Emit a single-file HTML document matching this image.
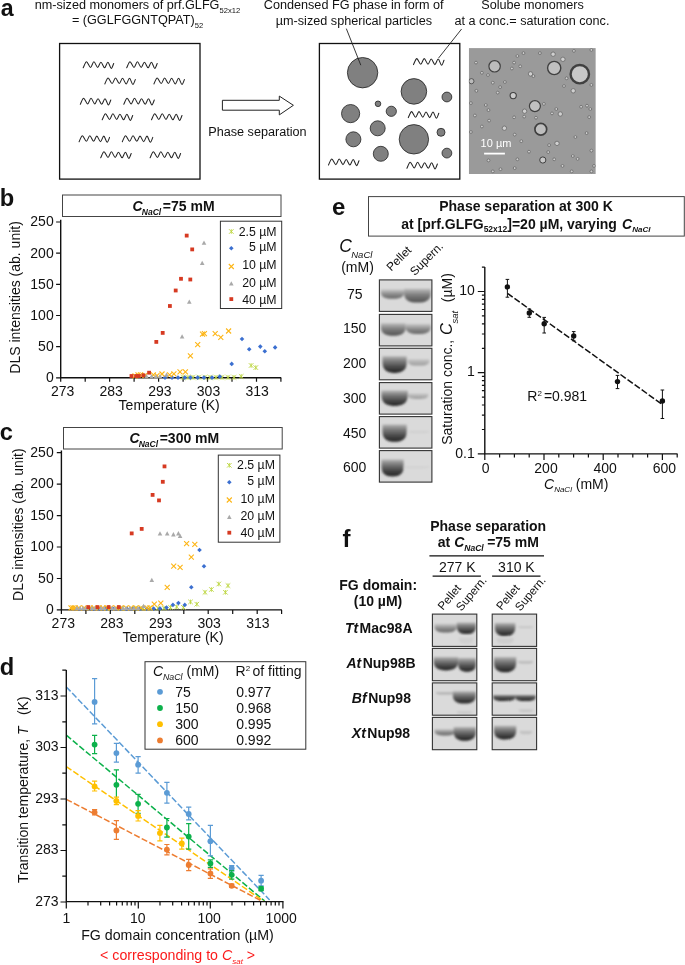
<!DOCTYPE html>
<html><head><meta charset="utf-8"><title>Figure</title>
<style>html,body{margin:0;padding:0;background:#fff}svg{display:block}text{font-family:"Liberation Sans",sans-serif}</style>
</head><body>
<svg width="685" height="965" viewBox="0 0 685 965">
<rect width="685" height="965" fill="#fff"/>
<g id="panel-a">
<text x="0.8" y="15.7" font-size="23.2" font-weight="bold" fill="#111">a</text>
<text x="34.7" y="9.2" font-size="12.65" fill="#111">nm-sized monomers of prf.GLFG<tspan font-size="7.6" dy="3.6">52x12</tspan></text>
<text x="71.9" y="24.3" font-size="12.65" fill="#111">= (GGLFGGNTQPAT)<tspan font-size="7.6" dy="3.6">52</tspan></text>
<text x="353.7" y="9.4" font-size="12.65" text-anchor="middle" fill="#111">Condensed FG phase in form of</text>
<text x="353.9" y="24.6" font-size="12.65" text-anchor="middle" fill="#111">µm-sized spherical particles</text>
<text x="532.5" y="9.4" font-size="12.65" text-anchor="middle" fill="#111">Solube monomers</text>
<text x="532" y="24.6" font-size="12.65" text-anchor="middle" fill="#111">at a conc.= saturation conc.</text>
<text x="257.4" y="135.9" font-size="12.65" text-anchor="middle" fill="#111">Phase separation</text>
<rect x="59.6" y="43.5" width="140.4" height="135.6" fill="#fff" stroke="#111" stroke-width="1.3"/>
<rect x="319.4" y="43.5" width="140.4" height="135.6" fill="#fff" stroke="#111" stroke-width="1.3"/>
<path d="M83.2 67.8 m0 0 c1-2 2.2-6 3.3-6 c1.2 0 2.8 5.6 4 5.6 c1.2 0 2.3-5.6 3.4-5.6 c1.2 0 2.6 5.6 3.8 5.6 c1.1 0 2.1-5.2 3.2-5.2 c1.2 0 2.5 5.6 3.7 5.6 c1.1 0 2.2-5.6 3.3-5.6 c1.1 0 2.3 6.2 3.4 6.2 c0.9 0 1.8-3.6 2.4-4.9" fill="none" stroke="#222" stroke-width="1.05" stroke-linecap="round" stroke-linejoin="round"/>
<path d="M126.7 67.8 m0 0 c1-2 2.2-6 3.3-6 c1.2 0 2.8 5.6 4 5.6 c1.2 0 2.3-5.6 3.4-5.6 c1.2 0 2.6 5.6 3.8 5.6 c1.1 0 2.1-5.2 3.2-5.2 c1.2 0 2.5 5.6 3.7 5.6 c1.1 0 2.2-5.6 3.3-5.6 c1.1 0 2.3 6.2 3.4 6.2 c0.9 0 1.8-3.6 2.4-4.9" fill="none" stroke="#222" stroke-width="1.05" stroke-linecap="round" stroke-linejoin="round"/>
<path d="M104.8 83.9 m0 0 c1-2 2.2-6 3.3-6 c1.2 0 2.8 5.6 4 5.6 c1.2 0 2.3-5.6 3.4-5.6 c1.2 0 2.6 5.6 3.8 5.6 c1.1 0 2.1-5.2 3.2-5.2 c1.2 0 2.5 5.6 3.7 5.6 c1.1 0 2.2-5.6 3.3-5.6 c1.1 0 2.3 6.2 3.4 6.2 c0.9 0 1.8-3.6 2.4-4.9" fill="none" stroke="#222" stroke-width="1.05" stroke-linecap="round" stroke-linejoin="round"/>
<path d="M153.9 83.9 m0 0 c1-2 2.2-6 3.3-6 c1.2 0 2.8 5.6 4 5.6 c1.2 0 2.3-5.6 3.4-5.6 c1.2 0 2.6 5.6 3.8 5.6 c1.1 0 2.1-5.2 3.2-5.2 c1.2 0 2.5 5.6 3.7 5.6 c1.1 0 2.2-5.6 3.3-5.6 c1.1 0 2.3 6.2 3.4 6.2 c0.9 0 1.8-3.6 2.4-4.9" fill="none" stroke="#222" stroke-width="1.05" stroke-linecap="round" stroke-linejoin="round"/>
<path d="M80.3 104.3 m0 0 c1-2 2.2-6 3.3-6 c1.2 0 2.8 5.6 4 5.6 c1.2 0 2.3-5.6 3.4-5.6 c1.2 0 2.6 5.6 3.8 5.6 c1.1 0 2.1-5.2 3.2-5.2 c1.2 0 2.5 5.6 3.7 5.6 c1.1 0 2.2-5.6 3.3-5.6 c1.1 0 2.3 6.2 3.4 6.2 c0.9 0 1.8-3.6 2.4-4.9" fill="none" stroke="#222" stroke-width="1.05" stroke-linecap="round" stroke-linejoin="round"/>
<path d="M123.8 104.3 m0 0 c1-2 2.2-6 3.3-6 c1.2 0 2.8 5.6 4 5.6 c1.2 0 2.3-5.6 3.4-5.6 c1.2 0 2.6 5.6 3.8 5.6 c1.1 0 2.1-5.2 3.2-5.2 c1.2 0 2.5 5.6 3.7 5.6 c1.1 0 2.2-5.6 3.3-5.6 c1.1 0 2.3 6.2 3.4 6.2 c0.9 0 1.8-3.6 2.4-4.9" fill="none" stroke="#222" stroke-width="1.05" stroke-linecap="round" stroke-linejoin="round"/>
<path d="M102.2 119.8 m0 0 c1-2 2.2-6 3.3-6 c1.2 0 2.8 5.6 4 5.6 c1.2 0 2.3-5.6 3.4-5.6 c1.2 0 2.6 5.6 3.8 5.6 c1.1 0 2.1-5.2 3.2-5.2 c1.2 0 2.5 5.6 3.7 5.6 c1.1 0 2.2-5.6 3.3-5.6 c1.1 0 2.3 6.2 3.4 6.2 c0.9 0 1.8-3.6 2.4-4.9" fill="none" stroke="#222" stroke-width="1.05" stroke-linecap="round" stroke-linejoin="round"/>
<path d="M151.5 119.8 m0 0 c1-2 2.2-6 3.3-6 c1.2 0 2.8 5.6 4 5.6 c1.2 0 2.3-5.6 3.4-5.6 c1.2 0 2.6 5.6 3.8 5.6 c1.1 0 2.1-5.2 3.2-5.2 c1.2 0 2.5 5.6 3.7 5.6 c1.1 0 2.2-5.6 3.3-5.6 c1.1 0 2.3 6.2 3.4 6.2 c0.9 0 1.8-3.6 2.4-4.9" fill="none" stroke="#222" stroke-width="1.05" stroke-linecap="round" stroke-linejoin="round"/>
<path d="M79.1 141.7 m0 0 c1-2 2.2-6 3.3-6 c1.2 0 2.8 5.6 4 5.6 c1.2 0 2.3-5.6 3.4-5.6 c1.2 0 2.6 5.6 3.8 5.6 c1.1 0 2.1-5.2 3.2-5.2 c1.2 0 2.5 5.6 3.7 5.6 c1.1 0 2.2-5.6 3.3-5.6 c1.1 0 2.3 6.2 3.4 6.2 c0.9 0 1.8-3.6 2.4-4.9" fill="none" stroke="#222" stroke-width="1.05" stroke-linecap="round" stroke-linejoin="round"/>
<path d="M122.3 141.7 m0 0 c1-2 2.2-6 3.3-6 c1.2 0 2.8 5.6 4 5.6 c1.2 0 2.3-5.6 3.4-5.6 c1.2 0 2.6 5.6 3.8 5.6 c1.1 0 2.1-5.2 3.2-5.2 c1.2 0 2.5 5.6 3.7 5.6 c1.1 0 2.2-5.6 3.3-5.6 c1.1 0 2.3 6.2 3.4 6.2 c0.9 0 1.8-3.6 2.4-4.9" fill="none" stroke="#222" stroke-width="1.05" stroke-linecap="round" stroke-linejoin="round"/>
<path d="M100.7 157.8 m0 0 c1-2 2.2-6 3.3-6 c1.2 0 2.8 5.6 4 5.6 c1.2 0 2.3-5.6 3.4-5.6 c1.2 0 2.6 5.6 3.8 5.6 c1.1 0 2.1-5.2 3.2-5.2 c1.2 0 2.5 5.6 3.7 5.6 c1.1 0 2.2-5.6 3.3-5.6 c1.1 0 2.3 6.2 3.4 6.2 c0.9 0 1.8-3.6 2.4-4.9" fill="none" stroke="#222" stroke-width="1.05" stroke-linecap="round" stroke-linejoin="round"/>
<path d="M150.1 157.8 m0 0 c1-2 2.2-6 3.3-6 c1.2 0 2.8 5.6 4 5.6 c1.2 0 2.3-5.6 3.4-5.6 c1.2 0 2.6 5.6 3.8 5.6 c1.1 0 2.1-5.2 3.2-5.2 c1.2 0 2.5 5.6 3.7 5.6 c1.1 0 2.2-5.6 3.3-5.6 c1.1 0 2.3 6.2 3.4 6.2 c0.9 0 1.8-3.6 2.4-4.9" fill="none" stroke="#222" stroke-width="1.05" stroke-linecap="round" stroke-linejoin="round"/>
<path d="M222.4 100.3 H279.3 V96.1 L293.4 105.3 L279.3 114.9 V110.2 H222.4 Z" fill="#fff" stroke="#222" stroke-width="1"/>
<circle cx="362.6" cy="72.7" r="15.2" fill="#808080" stroke="#222" stroke-width="0.8"/>
<circle cx="413.9" cy="91.4" r="12.8" fill="#808080" stroke="#222" stroke-width="0.8"/>
<circle cx="446.9" cy="97.0" r="4.9" fill="#808080" stroke="#222" stroke-width="0.8"/>
<circle cx="378.0" cy="103.8" r="2.8" fill="#808080" stroke="#222" stroke-width="0.8"/>
<circle cx="391.3" cy="111.3" r="5.1" fill="#808080" stroke="#222" stroke-width="0.8"/>
<circle cx="350.6" cy="113.6" r="9.1" fill="#808080" stroke="#222" stroke-width="0.8"/>
<circle cx="377.7" cy="128.3" r="7.5" fill="#808080" stroke="#222" stroke-width="0.8"/>
<circle cx="413.9" cy="139.3" r="14.7" fill="#808080" stroke="#222" stroke-width="0.8"/>
<circle cx="441.0" cy="132.3" r="4.0" fill="#808080" stroke="#222" stroke-width="0.8"/>
<circle cx="353.4" cy="139.3" r="7.5" fill="#808080" stroke="#222" stroke-width="0.8"/>
<circle cx="380.8" cy="153.8" r="7.5" fill="#808080" stroke="#222" stroke-width="0.8"/>
<circle cx="446.9" cy="153.1" r="4.9" fill="#808080" stroke="#222" stroke-width="0.8"/>
<path d="M413.5 64.6 m0 0 c1-2 2.2-6 3.3-6 c1.2 0 2.8 5.6 4 5.6 c1.2 0 2.3-5.6 3.4-5.6 c1.2 0 2.6 5.6 3.8 5.6 c1.1 0 2.1-5.2 3.2-5.2 c1.2 0 2.5 5.6 3.7 5.6 c1.1 0 2.2-5.6 3.3-5.6 c1.1 0 2.3 6.2 3.4 6.2 c0.9 0 1.8-3.6 2.4-4.9" fill="none" stroke="#222" stroke-width="1.05" stroke-linecap="round" stroke-linejoin="round"/>
<path d="M408.3 117.6 m0 0 c1-2 2.2-6 3.3-6 c1.2 0 2.8 5.6 4 5.6 c1.2 0 2.3-5.6 3.4-5.6 c1.2 0 2.6 5.6 3.8 5.6 c1.1 0 2.1-5.2 3.2-5.2 c1.2 0 2.5 5.6 3.7 5.6 c1.1 0 2.2-5.6 3.3-5.6 c1.1 0 2.3 6.2 3.4 6.2 c0.9 0 1.8-3.6 2.4-4.9" fill="none" stroke="#222" stroke-width="1.05" stroke-linecap="round" stroke-linejoin="round"/>
<path d="M328.5 165.0 m0 0 c1-2 2.2-6 3.3-6 c1.2 0 2.8 5.6 4 5.6 c1.2 0 2.3-5.6 3.4-5.6 c1.2 0 2.6 5.6 3.8 5.6 c1.1 0 2.1-5.2 3.2-5.2 c1.2 0 2.5 5.6 3.7 5.6 c1.1 0 2.2-5.6 3.3-5.6 c1.1 0 2.3 6.2 3.4 6.2 c0.9 0 1.8-3.6 2.4-4.9" fill="none" stroke="#222" stroke-width="1.05" stroke-linecap="round" stroke-linejoin="round"/>
<path d="M406.9 168.3 m0 0 c1-2 2.2-6 3.3-6 c1.2 0 2.8 5.6 4 5.6 c1.2 0 2.3-5.6 3.4-5.6 c1.2 0 2.6 5.6 3.8 5.6 c1.1 0 2.1-5.2 3.2-5.2 c1.2 0 2.5 5.6 3.7 5.6 c1.1 0 2.2-5.6 3.3-5.6 c1.1 0 2.3 6.2 3.4 6.2 c0.9 0 1.8-3.6 2.4-4.9" fill="none" stroke="#222" stroke-width="1.05" stroke-linecap="round" stroke-linejoin="round"/>
<path d="M346.3 28.6 L360.8 65.2 M461.6 29 L438.6 58" stroke="#222" stroke-width="0.9" fill="none"/>
<defs><clipPath id="mc"><rect x="468.8" y="48.1" width="127" height="125.9"/></clipPath><filter id="b1" x="-20%" y="-20%" width="140%" height="140%"><feGaussianBlur stdDeviation="0.5"/></filter></defs>
<g clip-path="url(#mc)"><rect x="468.8" y="48.1" width="127" height="125.9" fill="#9a9a9a"/>
<g filter="url(#b1)">
<circle cx="494.6" cy="66.3" r="5.7" fill="#bcbcbc" stroke="#404040" stroke-width="1.2"/>
<circle cx="554.2" cy="68.0" r="6.6" fill="#c0c0c0" stroke="#404040" stroke-width="1.4"/>
<circle cx="579.8" cy="74.2" r="9.2" fill="#c8c8c8" stroke="#404040" stroke-width="2.4"/>
<circle cx="534.9" cy="106.1" r="5.5" fill="#c0c0c0" stroke="#404040" stroke-width="1.2"/>
<circle cx="540.8" cy="129.3" r="5.9" fill="#bebebe" stroke="#404040" stroke-width="1.7"/>
<circle cx="513.2" cy="95.6" r="3.1" fill="#cccccc" stroke="#404040" stroke-width="1.1"/>
<circle cx="542.8" cy="160.0" r="3.1" fill="#c8c8c8" stroke="#404040" stroke-width="1.0"/>
<circle cx="471.4" cy="81.2" r="2.6" fill="#bbbbbb" stroke="#404040" stroke-width="0.8"/>
<circle cx="476.0" cy="62.6" r="1.4" fill="#d0d0d0" stroke="#5e5e5e" stroke-width="0.7"/>
<circle cx="481.9" cy="72.8" r="1.4" fill="#d0d0d0" stroke="#5e5e5e" stroke-width="0.7"/>
<circle cx="488.0" cy="75.0" r="1.4" fill="#d0d0d0" stroke="#5e5e5e" stroke-width="0.7"/>
<circle cx="514.1" cy="62.6" r="1.4" fill="#d0d0d0" stroke="#5e5e5e" stroke-width="0.7"/>
<circle cx="517.4" cy="56.0" r="1.4" fill="#d0d0d0" stroke="#5e5e5e" stroke-width="0.7"/>
<circle cx="523.5" cy="53.1" r="1.4" fill="#d0d0d0" stroke="#5e5e5e" stroke-width="0.7"/>
<circle cx="520.2" cy="66.3" r="1.4" fill="#d0d0d0" stroke="#5e5e5e" stroke-width="0.7"/>
<circle cx="511.9" cy="68.5" r="1.4" fill="#d0d0d0" stroke="#5e5e5e" stroke-width="0.7"/>
<circle cx="492.8" cy="82.7" r="1.4" fill="#d0d0d0" stroke="#5e5e5e" stroke-width="0.7"/>
<circle cx="504.9" cy="82.0" r="1.4" fill="#d0d0d0" stroke="#5e5e5e" stroke-width="0.7"/>
<circle cx="500.1" cy="87.1" r="1.4" fill="#d0d0d0" stroke="#5e5e5e" stroke-width="0.7"/>
<circle cx="497.7" cy="92.6" r="1.4" fill="#d0d0d0" stroke="#5e5e5e" stroke-width="0.7"/>
<circle cx="476.4" cy="90.8" r="1.4" fill="#d0d0d0" stroke="#5e5e5e" stroke-width="0.7"/>
<circle cx="470.9" cy="103.1" r="1.4" fill="#d0d0d0" stroke="#5e5e5e" stroke-width="0.7"/>
<circle cx="485.8" cy="105.0" r="1.4" fill="#d0d0d0" stroke="#5e5e5e" stroke-width="0.7"/>
<circle cx="488.5" cy="110.1" r="1.4" fill="#d0d0d0" stroke="#5e5e5e" stroke-width="0.7"/>
<circle cx="474.9" cy="115.5" r="1.4" fill="#d0d0d0" stroke="#5e5e5e" stroke-width="0.7"/>
<circle cx="489.1" cy="120.6" r="1.4" fill="#d0d0d0" stroke="#5e5e5e" stroke-width="0.7"/>
<circle cx="504.4" cy="128.2" r="2.2" fill="#d0d0d0" stroke="#5e5e5e" stroke-width="0.7"/>
<circle cx="481.9" cy="126.5" r="1.4" fill="#d0d0d0" stroke="#5e5e5e" stroke-width="0.7"/>
<circle cx="470.9" cy="132.0" r="1.4" fill="#d0d0d0" stroke="#5e5e5e" stroke-width="0.7"/>
<circle cx="514.1" cy="117.3" r="1.4" fill="#d0d0d0" stroke="#5e5e5e" stroke-width="0.7"/>
<circle cx="524.6" cy="111.2" r="2.2" fill="#d0d0d0" stroke="#5e5e5e" stroke-width="0.7"/>
<circle cx="524.2" cy="116.6" r="1.4" fill="#d0d0d0" stroke="#5e5e5e" stroke-width="0.7"/>
<circle cx="536.0" cy="117.7" r="1.4" fill="#d0d0d0" stroke="#5e5e5e" stroke-width="0.7"/>
<circle cx="543.9" cy="103.9" r="1.4" fill="#d0d0d0" stroke="#5e5e5e" stroke-width="0.7"/>
<circle cx="530.5" cy="73.9" r="2.2" fill="#d0d0d0" stroke="#5e5e5e" stroke-width="0.7"/>
<circle cx="533.4" cy="76.1" r="1.4" fill="#d0d0d0" stroke="#5e5e5e" stroke-width="0.7"/>
<circle cx="539.9" cy="53.1" r="1.4" fill="#d0d0d0" stroke="#5e5e5e" stroke-width="0.7"/>
<circle cx="553.1" cy="54.2" r="2.2" fill="#d0d0d0" stroke="#5e5e5e" stroke-width="0.7"/>
<circle cx="562.9" cy="59.3" r="2.2" fill="#d0d0d0" stroke="#5e5e5e" stroke-width="0.7"/>
<circle cx="573.9" cy="50.9" r="1.4" fill="#d0d0d0" stroke="#5e5e5e" stroke-width="0.7"/>
<circle cx="591.4" cy="49.9" r="1.4" fill="#d0d0d0" stroke="#5e5e5e" stroke-width="0.7"/>
<circle cx="566.6" cy="78.3" r="1.4" fill="#d0d0d0" stroke="#5e5e5e" stroke-width="0.7"/>
<circle cx="564.0" cy="86.0" r="1.4" fill="#d0d0d0" stroke="#5e5e5e" stroke-width="0.7"/>
<circle cx="573.2" cy="90.8" r="2.2" fill="#d0d0d0" stroke="#5e5e5e" stroke-width="0.7"/>
<circle cx="591.4" cy="84.9" r="1.4" fill="#d0d0d0" stroke="#5e5e5e" stroke-width="0.7"/>
<circle cx="581.1" cy="106.8" r="1.4" fill="#d0d0d0" stroke="#5e5e5e" stroke-width="0.7"/>
<circle cx="587.0" cy="105.7" r="1.4" fill="#d0d0d0" stroke="#5e5e5e" stroke-width="0.7"/>
<circle cx="590.3" cy="109.0" r="1.4" fill="#d0d0d0" stroke="#5e5e5e" stroke-width="0.7"/>
<circle cx="589.2" cy="117.1" r="1.4" fill="#d0d0d0" stroke="#5e5e5e" stroke-width="0.7"/>
<circle cx="556.3" cy="109.0" r="1.4" fill="#d0d0d0" stroke="#5e5e5e" stroke-width="0.7"/>
<circle cx="552.0" cy="113.4" r="1.4" fill="#d0d0d0" stroke="#5e5e5e" stroke-width="0.7"/>
<circle cx="560.3" cy="114.0" r="2.2" fill="#d0d0d0" stroke="#5e5e5e" stroke-width="0.7"/>
<circle cx="575.4" cy="137.0" r="1.4" fill="#d0d0d0" stroke="#5e5e5e" stroke-width="0.7"/>
<circle cx="586.6" cy="133.1" r="1.4" fill="#d0d0d0" stroke="#5e5e5e" stroke-width="0.7"/>
<circle cx="557.0" cy="143.4" r="2.2" fill="#d0d0d0" stroke="#5e5e5e" stroke-width="0.7"/>
<circle cx="549.1" cy="145.1" r="1.4" fill="#d0d0d0" stroke="#5e5e5e" stroke-width="0.7"/>
<circle cx="548.2" cy="152.1" r="1.4" fill="#d0d0d0" stroke="#5e5e5e" stroke-width="0.7"/>
<circle cx="521.3" cy="141.2" r="1.4" fill="#d0d0d0" stroke="#5e5e5e" stroke-width="0.7"/>
<circle cx="514.7" cy="134.6" r="1.4" fill="#d0d0d0" stroke="#5e5e5e" stroke-width="0.7"/>
<circle cx="529.0" cy="151.7" r="1.4" fill="#d0d0d0" stroke="#5e5e5e" stroke-width="0.7"/>
<circle cx="517.4" cy="159.3" r="1.4" fill="#d0d0d0" stroke="#5e5e5e" stroke-width="0.7"/>
<circle cx="514.7" cy="168.1" r="1.4" fill="#d0d0d0" stroke="#5e5e5e" stroke-width="0.7"/>
<circle cx="500.5" cy="169.2" r="1.4" fill="#d0d0d0" stroke="#5e5e5e" stroke-width="0.7"/>
<circle cx="492.8" cy="171.4" r="1.4" fill="#d0d0d0" stroke="#5e5e5e" stroke-width="0.7"/>
<circle cx="488.5" cy="160.4" r="1.4" fill="#d0d0d0" stroke="#5e5e5e" stroke-width="0.7"/>
<circle cx="554.2" cy="159.3" r="1.4" fill="#d0d0d0" stroke="#5e5e5e" stroke-width="0.7"/>
<circle cx="562.5" cy="165.9" r="1.4" fill="#d0d0d0" stroke="#5e5e5e" stroke-width="0.7"/>
<circle cx="571.7" cy="171.4" r="1.4" fill="#d0d0d0" stroke="#5e5e5e" stroke-width="0.7"/>
<circle cx="572.8" cy="156.0" r="1.4" fill="#d0d0d0" stroke="#5e5e5e" stroke-width="0.7"/>
<circle cx="577.6" cy="158.9" r="1.4" fill="#d0d0d0" stroke="#5e5e5e" stroke-width="0.7"/>
<circle cx="591.4" cy="150.6" r="1.4" fill="#d0d0d0" stroke="#5e5e5e" stroke-width="0.7"/>
<circle cx="594.0" cy="165.9" r="1.4" fill="#d0d0d0" stroke="#5e5e5e" stroke-width="0.7"/>
<circle cx="591.4" cy="171.4" r="1.4" fill="#d0d0d0" stroke="#5e5e5e" stroke-width="0.7"/>
</g>
<rect x="484.1" y="152.7" width="20.8" height="1.8" fill="#fff"/>
</g>
<text x="480.6" y="147.3" font-size="11" fill="#fff">10 µm</text>
</g>
<g id="panel-b">
<text x="-0.2" y="206.1" font-size="23.7" font-weight="bold" fill="#111">b</text>
<rect x="62.5" y="195" width="218.5" height="21.5" fill="#fff" stroke="#444" stroke-width="1"/>
<text x="132.5" y="210.9" font-size="14" font-weight="bold" fill="#111"><tspan font-style="italic">C</tspan><tspan font-style="italic" font-size="8.5" dy="4.2" dx="-0.8">NaCl</tspan><tspan dy="-4.2" dx="1.6">=75 mM</tspan></text>
<path d="M60.7 219.8 V377.8 H281.2" fill="none" stroke="#111" stroke-width="1.4"/>
<text x="53.7" y="382.1" font-size="14" text-anchor="end" fill="#111">0</text>
<text x="53.7" y="350.9" font-size="14" text-anchor="end" fill="#111">50</text>
<text x="53.7" y="319.8" font-size="14" text-anchor="end" fill="#111">100</text>
<text x="53.7" y="288.6" font-size="14" text-anchor="end" fill="#111">150</text>
<text x="53.7" y="257.5" font-size="14" text-anchor="end" fill="#111">200</text>
<text x="53.7" y="226.3" font-size="14" text-anchor="end" fill="#111">250</text>
<path d="M60.7 377.8h-4.6 M60.7 346.6h-4.6 M60.7 315.5h-4.6 M60.7 284.3h-4.6 M60.7 253.2h-4.6 M60.7 222.0h-4.6 M60.7 377.8v4 M85.2 377.8v4 M109.6 377.8v4 M134.1 377.8v4 M158.6 377.8v4 M183.1 377.8v4 M207.5 377.8v4 M232.0 377.8v4 M256.5 377.8v4 M280.9 377.8v4" stroke="#111" stroke-width="1.2" fill="none"/>
<text x="62.6" y="396.1" font-size="14" text-anchor="middle" fill="#111">273</text>
<text x="111.2" y="396.1" font-size="14" text-anchor="middle" fill="#111">283</text>
<text x="159.9" y="396.1" font-size="14" text-anchor="middle" fill="#111">293</text>
<text x="208.5" y="396.1" font-size="14" text-anchor="middle" fill="#111">303</text>
<text x="257.2" y="396.1" font-size="14" text-anchor="middle" fill="#111">313</text>
<text x="169.2" y="410.0" font-size="14" text-anchor="middle" fill="#111">Temperature (K)</text>
<text transform="translate(20.1 297.4) rotate(-90)" font-size="14" text-anchor="middle" fill="#111">DLS intensities (ab. unit)</text>
<path d="M248.8 363.2L253.4 367.8M248.8 367.8L253.4 363.2M251.1 363.2V367.8" stroke="#bcd63f" stroke-width="0.9" fill="none"/>
<path d="M253.5 365.3L258.1 369.9M253.5 369.9L258.1 365.3M255.8 365.3V369.9" stroke="#bcd63f" stroke-width="0.9" fill="none"/>
<path d="M238.9 374.1L243.5 378.7M238.9 378.7L243.5 374.1M241.2 374.1V378.7" stroke="#bcd63f" stroke-width="0.9" fill="none"/>
<path d="M180.7 375.1L185.3 379.7M180.7 379.7L185.3 375.1M183.0 375.1V379.7" stroke="#bcd63f" stroke-width="0.9" fill="none"/>
<path d="M185.7 375.1L190.3 379.7M185.7 379.7L190.3 375.1M188.0 375.1V379.7" stroke="#bcd63f" stroke-width="0.9" fill="none"/>
<path d="M190.7 375.1L195.3 379.7M190.7 379.7L195.3 375.1M193.0 375.1V379.7" stroke="#bcd63f" stroke-width="0.9" fill="none"/>
<path d="M196.7 375.1L201.3 379.7M196.7 379.7L201.3 375.1M199.0 375.1V379.7" stroke="#bcd63f" stroke-width="0.9" fill="none"/>
<path d="M202.7 375.1L207.3 379.7M202.7 379.7L207.3 375.1M205.0 375.1V379.7" stroke="#bcd63f" stroke-width="0.9" fill="none"/>
<path d="M207.7 375.1L212.3 379.7M207.7 379.7L212.3 375.1M210.0 375.1V379.7" stroke="#bcd63f" stroke-width="0.9" fill="none"/>
<path d="M213.7 375.1L218.3 379.7M213.7 379.7L218.3 375.1M216.0 375.1V379.7" stroke="#bcd63f" stroke-width="0.9" fill="none"/>
<path d="M219.7 375.1L224.3 379.7M219.7 379.7L224.3 375.1M222.0 375.1V379.7" stroke="#bcd63f" stroke-width="0.9" fill="none"/>
<path d="M225.7 375.1L230.3 379.7M225.7 379.7L230.3 375.1M228.0 375.1V379.7" stroke="#bcd63f" stroke-width="0.9" fill="none"/>
<path d="M231.7 375.1L236.3 379.7M231.7 379.7L236.3 375.1M234.0 375.1V379.7" stroke="#bcd63f" stroke-width="0.9" fill="none"/>
<path d="M242.0 336.7L244.3 339.0L242.0 341.3L239.7 339.0Z" fill="#3b6fd0"/>
<path d="M249.2 347.0L251.5 349.3L249.2 351.6L246.9 349.3Z" fill="#3b6fd0"/>
<path d="M260.3 344.3L262.6 346.6L260.3 348.9L258.0 346.6Z" fill="#3b6fd0"/>
<path d="M264.8 348.9L267.1 351.2L264.8 353.5L262.5 351.2Z" fill="#3b6fd0"/>
<path d="M275.1 345.1L277.4 347.4L275.1 349.7L272.8 347.4Z" fill="#3b6fd0"/>
<path d="M231.7 361.6L234.0 363.9L231.7 366.2L229.4 363.9Z" fill="#3b6fd0"/>
<path d="M219.8 374.3L222.1 376.6L219.8 378.9L217.5 376.6Z" fill="#3b6fd0"/>
<path d="M184.8 375.3L187.1 377.6L184.8 379.9L182.5 377.6Z" fill="#3b6fd0"/>
<path d="M190.4 375.3L192.7 377.6L190.4 379.9L188.1 377.6Z" fill="#3b6fd0"/>
<path d="M197.7 375.3L200.0 377.6L197.7 379.9L195.4 377.6Z" fill="#3b6fd0"/>
<path d="M178.0 375.3L180.3 377.6L178.0 379.9L175.7 377.6Z" fill="#3b6fd0"/>
<path d="M172.0 375.3L174.3 377.6L172.0 379.9L169.7 377.6Z" fill="#3b6fd0"/>
<path d="M165.0 375.3L167.3 377.6L165.0 379.9L162.7 377.6Z" fill="#3b6fd0"/>
<path d="M204.0 375.3L206.3 377.6L204.0 379.9L201.7 377.6Z" fill="#3b6fd0"/>
<path d="M212.0 375.3L214.3 377.6L212.0 379.9L209.7 377.6Z" fill="#3b6fd0"/>
<path d="M187.9 353.3L192.9 358.3M187.9 358.3L192.9 353.3" stroke="#fdb515" stroke-width="1.1" fill="none"/>
<path d="M195.2 342.2L200.2 347.2M195.2 347.2L200.2 342.2" stroke="#fdb515" stroke-width="1.1" fill="none"/>
<path d="M200.0 331.7L205.0 336.7M200.0 336.7L205.0 331.7" stroke="#fdb515" stroke-width="1.1" fill="none"/>
<path d="M201.9 331.1L206.9 336.1M201.9 336.1L206.9 331.1" stroke="#fdb515" stroke-width="1.1" fill="none"/>
<path d="M212.7 331.2L217.7 336.2M212.7 336.2L217.7 331.2" stroke="#fdb515" stroke-width="1.1" fill="none"/>
<path d="M218.3 334.9L223.3 339.9M218.3 339.9L223.3 334.9" stroke="#fdb515" stroke-width="1.1" fill="none"/>
<path d="M226.1 328.5L231.1 333.5M226.1 333.5L231.1 328.5" stroke="#fdb515" stroke-width="1.1" fill="none"/>
<path d="M182.9 369.4L187.9 374.4M182.9 374.4L187.9 369.4" stroke="#fdb515" stroke-width="1.1" fill="none"/>
<path d="M177.5 369.4L182.5 374.4M177.5 374.4L182.5 369.4" stroke="#fdb515" stroke-width="1.1" fill="none"/>
<path d="M171.4 371.4L176.4 376.4M171.4 376.4L176.4 371.4" stroke="#fdb515" stroke-width="1.1" fill="none"/>
<path d="M167.1 372.3L172.1 377.3M167.1 377.3L172.1 372.3" stroke="#fdb515" stroke-width="1.1" fill="none"/>
<path d="M159.5 371.5L164.5 376.5M159.5 376.5L164.5 371.5" stroke="#fdb515" stroke-width="1.1" fill="none"/>
<path d="M154.5 373.1L159.5 378.1M154.5 378.1L159.5 373.1" stroke="#fdb515" stroke-width="1.1" fill="none"/>
<path d="M150.9 372.3L155.9 377.3M150.9 377.3L155.9 372.3" stroke="#fdb515" stroke-width="1.1" fill="none"/>
<path d="M138.0 372.3L143.0 377.3M138.0 377.3L143.0 372.3" stroke="#fdb515" stroke-width="1.1" fill="none"/>
<path d="M135.5 372.3L140.5 377.3M135.5 377.3L140.5 372.3" stroke="#fdb515" stroke-width="1.1" fill="none"/>
<path d="M142.5 373.0L147.5 378.0M142.5 378.0L147.5 373.0" stroke="#fdb515" stroke-width="1.1" fill="none"/>
<path d="M132.5 373.5L137.5 378.5M132.5 378.5L137.5 373.5" stroke="#fdb515" stroke-width="1.1" fill="none"/>
<path d="M204.0 240.4L206.3 244.7L201.7 244.7Z" fill="#a9a9a9"/>
<path d="M202.2 260.8L204.5 265.1L199.9 265.1Z" fill="#a9a9a9"/>
<path d="M189.3 299.4L191.6 303.7L187.0 303.7Z" fill="#a9a9a9"/>
<path d="M182.1 334.3L184.4 338.6L179.8 338.6Z" fill="#a9a9a9"/>
<path d="M166.5 372.5L168.8 376.8L164.2 376.8Z" fill="#a9a9a9"/>
<path d="M146.5 374.0L148.8 378.3L144.2 378.3Z" fill="#a9a9a9"/>
<path d="M151.6 374.0L153.9 378.3L149.3 378.3Z" fill="#a9a9a9"/>
<path d="M160.0 374.0L162.3 378.3L157.7 378.3Z" fill="#a9a9a9"/>
<path d="M156.0 374.2L158.3 378.5L153.7 378.5Z" fill="#a9a9a9"/>
<rect x="184.8" y="233.7" width="3.8" height="3.8" fill="#d63a22"/>
<rect x="190.3" y="247.5" width="3.8" height="3.8" fill="#d63a22"/>
<rect x="179.1" y="276.9" width="3.8" height="3.8" fill="#d63a22"/>
<rect x="188.4" y="277.6" width="3.8" height="3.8" fill="#d63a22"/>
<rect x="173.8" y="288.6" width="3.8" height="3.8" fill="#d63a22"/>
<rect x="168.0" y="304.1" width="3.8" height="3.8" fill="#d63a22"/>
<rect x="160.8" y="331.0" width="3.8" height="3.8" fill="#d63a22"/>
<rect x="154.4" y="340.0" width="3.8" height="3.8" fill="#d63a22"/>
<rect x="147.2" y="370.8" width="3.8" height="3.8" fill="#d63a22"/>
<rect x="141.5" y="373.4" width="3.8" height="3.8" fill="#d63a22"/>
<rect x="136.9" y="374.1" width="3.8" height="3.8" fill="#d63a22"/>
<rect x="134.3" y="374.1" width="3.8" height="3.8" fill="#d63a22"/>
<rect x="129.6" y="374.1" width="3.8" height="3.8" fill="#d63a22"/>
<rect x="220.4" y="221.2" width="61.29999999999998" height="87.30000000000001" fill="#fff" stroke="#333" stroke-width="1"/>
<text x="276.6" y="235.5" font-size="12.3" text-anchor="end" fill="#111">2.5 µM</text>
<path d="M229.0 229.2L233.6 233.8M229.0 233.8L233.6 229.2M231.3 229.2V233.8" stroke="#bcd63f" stroke-width="0.9" fill="none"/>
<text x="276.6" y="251.2" font-size="12.3" text-anchor="end" fill="#111">5 µM</text>
<path d="M231.3 246.0L233.6 248.3L231.3 250.6L229.0 248.3Z" fill="#3b6fd0"/>
<text x="276.6" y="268.8" font-size="12.3" text-anchor="end" fill="#111">10 µM</text>
<path d="M228.8 264.0L233.8 269.0M228.8 269.0L233.8 264.0" stroke="#fdb515" stroke-width="1.1" fill="none"/>
<text x="276.6" y="286.9" font-size="12.3" text-anchor="end" fill="#111">20 µM</text>
<path d="M231.3 281.3L233.6 285.6L229.0 285.6Z" fill="#a9a9a9"/>
<text x="276.6" y="304" font-size="12.3" text-anchor="end" fill="#111">40 µM</text>
<rect x="229.4" y="297.2" width="3.8" height="3.8" fill="#d63a22"/>
</g>
<g id="panel-c">
<text x="-0.2" y="439.5" font-size="23.7" font-weight="bold" fill="#111">c</text>
<rect x="63.5" y="427.5" width="218.7" height="21.5" fill="#fff" stroke="#444" stroke-width="1"/>
<text x="129.4" y="442.9" font-size="14" font-weight="bold" fill="#111"><tspan font-style="italic">C</tspan><tspan font-style="italic" font-size="8.5" dy="4.2" dx="-0.8">NaCl</tspan><tspan dy="-4.2" dx="1.6">=300 mM</tspan></text>
<path d="M61.4 450.5 V609.9 H281.9" fill="none" stroke="#111" stroke-width="1.4"/>
<text x="53.7" y="614.2" font-size="14" text-anchor="end" fill="#111">0</text>
<text x="53.7" y="582.8" font-size="14" text-anchor="end" fill="#111">50</text>
<text x="53.7" y="551.3" font-size="14" text-anchor="end" fill="#111">100</text>
<text x="53.7" y="519.9" font-size="14" text-anchor="end" fill="#111">150</text>
<text x="53.7" y="488.4" font-size="14" text-anchor="end" fill="#111">200</text>
<text x="53.7" y="457.0" font-size="14" text-anchor="end" fill="#111">250</text>
<path d="M61.4 609.9h-4.6 M61.4 578.5h-4.6 M61.4 547.0h-4.6 M61.4 515.6h-4.6 M61.4 484.1h-4.6 M61.4 452.7h-4.6 M61.4 609.9v4 M85.9 609.9v4 M110.3 609.9v4 M134.8 609.9v4 M159.3 609.9v4 M183.8 609.9v4 M208.2 609.9v4 M232.7 609.9v4 M257.2 609.9v4 M281.6 609.9v4" stroke="#111" stroke-width="1.2" fill="none"/>
<text x="63.3" y="628.2" font-size="14" text-anchor="middle" fill="#111">273</text>
<text x="111.9" y="628.2" font-size="14" text-anchor="middle" fill="#111">283</text>
<text x="160.6" y="628.2" font-size="14" text-anchor="middle" fill="#111">293</text>
<text x="209.2" y="628.2" font-size="14" text-anchor="middle" fill="#111">303</text>
<text x="257.9" y="628.2" font-size="14" text-anchor="middle" fill="#111">313</text>
<text x="173" y="642.1" font-size="14" text-anchor="middle" fill="#111">Temperature (K)</text>
<text transform="translate(22.7 524.7) rotate(-90)" font-size="14" text-anchor="middle" fill="#111">DLS intensities (ab. unit)</text>
<path d="M216.5 581.7L221.1 586.3M216.5 586.3L221.1 581.7M218.8 581.7V586.3" stroke="#bcd63f" stroke-width="0.9" fill="none"/>
<path d="M225.7 583.3L230.3 587.9M225.7 587.9L230.3 583.3M228.0 583.3V587.9" stroke="#bcd63f" stroke-width="0.9" fill="none"/>
<path d="M209.1 587.2L213.7 591.8M209.1 591.8L213.7 587.2M211.4 587.2V591.8" stroke="#bcd63f" stroke-width="0.9" fill="none"/>
<path d="M202.7 590.0L207.3 594.6M202.7 594.6L207.3 590.0M205.0 590.0V594.6" stroke="#bcd63f" stroke-width="0.9" fill="none"/>
<path d="M223.1 590.0L227.7 594.6M223.1 594.6L227.7 590.0M225.4 590.0V594.6" stroke="#bcd63f" stroke-width="0.9" fill="none"/>
<path d="M188.2 599.6L192.8 604.2M188.2 604.2L192.8 599.6M190.5 599.6V604.2" stroke="#bcd63f" stroke-width="0.9" fill="none"/>
<path d="M194.5 601.9L199.1 606.5M194.5 606.5L199.1 601.9M196.8 601.9V606.5" stroke="#bcd63f" stroke-width="0.9" fill="none"/>
<path d="M174.4 604.6L179.0 609.2M174.4 609.2L179.0 604.6M176.7 604.6V609.2" stroke="#bcd63f" stroke-width="0.9" fill="none"/>
<path d="M181.1 605.1L185.7 609.7M181.1 609.7L185.7 605.1M183.4 605.1V609.7" stroke="#bcd63f" stroke-width="0.9" fill="none"/>
<path d="M168.2 605.1L172.8 609.7M168.2 609.7L172.8 605.1M170.5 605.1V609.7" stroke="#bcd63f" stroke-width="0.9" fill="none"/>
<path d="M104.7 605.9L109.3 610.5M104.7 610.5L109.3 605.9M107.0 605.9V610.5" stroke="#bcd63f" stroke-width="0.9" fill="none"/>
<path d="M119.7 605.9L124.3 610.5M119.7 610.5L124.3 605.9M122.0 605.9V610.5" stroke="#bcd63f" stroke-width="0.9" fill="none"/>
<path d="M132.7 605.9L137.3 610.5M132.7 610.5L137.3 605.9M135.0 605.9V610.5" stroke="#bcd63f" stroke-width="0.9" fill="none"/>
<path d="M140.7 605.9L145.3 610.5M140.7 610.5L145.3 605.9M143.0 605.9V610.5" stroke="#bcd63f" stroke-width="0.9" fill="none"/>
<path d="M147.7 605.9L152.3 610.5M147.7 610.5L152.3 605.9M150.0 605.9V610.5" stroke="#bcd63f" stroke-width="0.9" fill="none"/>
<path d="M155.7 605.9L160.3 610.5M155.7 610.5L160.3 605.9M158.0 605.9V610.5" stroke="#bcd63f" stroke-width="0.9" fill="none"/>
<path d="M161.7 605.9L166.3 610.5M161.7 610.5L166.3 605.9M164.0 605.9V610.5" stroke="#bcd63f" stroke-width="0.9" fill="none"/>
<path d="M199.5 547.7L201.8 550.0L199.5 552.3L197.2 550.0Z" fill="#3b6fd0"/>
<path d="M204.0 563.9L206.3 566.2L204.0 568.5L201.7 566.2Z" fill="#3b6fd0"/>
<path d="M191.3 585.0L193.6 587.3L191.3 589.6L189.0 587.3Z" fill="#3b6fd0"/>
<path d="M178.4 600.8L180.7 603.1L178.4 605.4L176.1 603.1Z" fill="#3b6fd0"/>
<path d="M172.9 602.6L175.2 604.9L172.9 607.2L170.6 604.9Z" fill="#3b6fd0"/>
<path d="M184.8 602.6L187.1 604.9L184.8 607.2L182.5 604.9Z" fill="#3b6fd0"/>
<path d="M166.5 605.3L168.8 607.6L166.5 609.9L164.2 607.6Z" fill="#3b6fd0"/>
<path d="M160.0 606.3L162.3 608.6L160.0 610.9L157.7 608.6Z" fill="#3b6fd0"/>
<path d="M153.6 606.3L155.9 608.6L153.6 610.9L151.3 608.6Z" fill="#3b6fd0"/>
<path d="M147.0 606.5L149.3 608.8L147.0 611.1L144.7 608.8Z" fill="#3b6fd0"/>
<path d="M140.0 606.5L142.3 608.8L140.0 611.1L137.7 608.8Z" fill="#3b6fd0"/>
<path d="M133.0 606.5L135.3 608.8L133.0 611.1L130.7 608.8Z" fill="#3b6fd0"/>
<path d="M127.0 606.5L129.3 608.8L127.0 611.1L124.7 608.8Z" fill="#3b6fd0"/>
<path d="M120.0 606.5L122.3 608.8L120.0 611.1L117.7 608.8Z" fill="#3b6fd0"/>
<path d="M113.0 606.5L115.3 608.8L113.0 611.1L110.7 608.8Z" fill="#3b6fd0"/>
<path d="M106.0 606.5L108.3 608.8L106.0 611.1L103.7 608.8Z" fill="#3b6fd0"/>
<path d="M100.0 606.5L102.3 608.8L100.0 611.1L97.7 608.8Z" fill="#3b6fd0"/>
<path d="M93.0 606.5L95.3 608.8L93.0 611.1L90.7 608.8Z" fill="#3b6fd0"/>
<path d="M184.1 541.1L189.1 546.1M184.1 546.1L189.1 541.1" stroke="#fdb515" stroke-width="1.1" fill="none"/>
<path d="M192.3 541.8L197.3 546.8M192.3 546.8L197.3 541.8" stroke="#fdb515" stroke-width="1.1" fill="none"/>
<path d="M188.8 554.7L193.8 559.7M188.8 559.7L193.8 554.7" stroke="#fdb515" stroke-width="1.1" fill="none"/>
<path d="M171.2 563.7L176.2 568.7M171.2 568.7L176.2 563.7" stroke="#fdb515" stroke-width="1.1" fill="none"/>
<path d="M177.6 564.9L182.6 569.9M177.6 569.9L182.6 564.9" stroke="#fdb515" stroke-width="1.1" fill="none"/>
<path d="M164.7 584.8L169.7 589.8M164.7 589.8L169.7 584.8" stroke="#fdb515" stroke-width="1.1" fill="none"/>
<path d="M158.3 600.6L163.3 605.6M158.3 605.6L163.3 600.6" stroke="#fdb515" stroke-width="1.1" fill="none"/>
<path d="M151.8 601.6L156.8 606.6M151.8 606.6L156.8 601.6" stroke="#fdb515" stroke-width="1.1" fill="none"/>
<path d="M68.5 605.3L73.5 610.3M68.5 610.3L73.5 605.3" stroke="#fdb515" stroke-width="1.1" fill="none"/>
<path d="M70.5 605.3L75.5 610.3M70.5 610.3L75.5 605.3" stroke="#fdb515" stroke-width="1.1" fill="none"/>
<path d="M72.5 605.3L77.5 610.3M72.5 610.3L77.5 605.3" stroke="#fdb515" stroke-width="1.1" fill="none"/>
<path d="M76.5 605.3L81.5 610.3M76.5 610.3L81.5 605.3" stroke="#fdb515" stroke-width="1.1" fill="none"/>
<path d="M81.5 605.3L86.5 610.3M81.5 610.3L86.5 605.3" stroke="#fdb515" stroke-width="1.1" fill="none"/>
<path d="M87.5 605.3L92.5 610.3M87.5 610.3L92.5 605.3" stroke="#fdb515" stroke-width="1.1" fill="none"/>
<path d="M91.5 605.3L96.5 610.3M91.5 610.3L96.5 605.3" stroke="#fdb515" stroke-width="1.1" fill="none"/>
<path d="M96.5 605.3L101.5 610.3M96.5 610.3L101.5 605.3" stroke="#fdb515" stroke-width="1.1" fill="none"/>
<path d="M100.5 605.3L105.5 610.3M100.5 610.3L105.5 605.3" stroke="#fdb515" stroke-width="1.1" fill="none"/>
<path d="M104.5 605.3L109.5 610.3M104.5 610.3L109.5 605.3" stroke="#fdb515" stroke-width="1.1" fill="none"/>
<path d="M108.5 605.3L113.5 610.3M108.5 610.3L113.5 605.3" stroke="#fdb515" stroke-width="1.1" fill="none"/>
<path d="M113.5 605.3L118.5 610.3M113.5 610.3L118.5 605.3" stroke="#fdb515" stroke-width="1.1" fill="none"/>
<path d="M118.5 605.3L123.5 610.3M118.5 610.3L123.5 605.3" stroke="#fdb515" stroke-width="1.1" fill="none"/>
<path d="M123.5 605.3L128.5 610.3M123.5 610.3L128.5 605.3" stroke="#fdb515" stroke-width="1.1" fill="none"/>
<path d="M128.5 605.3L133.5 610.3M128.5 610.3L133.5 605.3" stroke="#fdb515" stroke-width="1.1" fill="none"/>
<path d="M133.5 605.3L138.5 610.3M133.5 610.3L138.5 605.3" stroke="#fdb515" stroke-width="1.1" fill="none"/>
<path d="M138.5 605.3L143.5 610.3M138.5 610.3L143.5 605.3" stroke="#fdb515" stroke-width="1.1" fill="none"/>
<path d="M144.5 605.3L149.5 610.3M144.5 610.3L149.5 605.3" stroke="#fdb515" stroke-width="1.1" fill="none"/>
<path d="M147.5 605.3L152.5 610.3M147.5 610.3L152.5 605.3" stroke="#fdb515" stroke-width="1.1" fill="none"/>
<path d="M160.0 531.3L162.3 535.6L157.7 535.6Z" fill="#a9a9a9"/>
<path d="M167.2 531.3L169.5 535.6L164.9 535.6Z" fill="#a9a9a9"/>
<path d="M173.4 532.1L175.7 536.4L171.1 536.4Z" fill="#a9a9a9"/>
<path d="M178.4 531.1L180.7 535.4L176.1 535.4Z" fill="#a9a9a9"/>
<path d="M180.1 533.8L182.4 538.1L177.8 538.1Z" fill="#a9a9a9"/>
<path d="M151.8 577.8L154.1 582.1L149.5 582.1Z" fill="#a9a9a9"/>
<path d="M143.6 603.8L145.9 608.1L141.3 608.1Z" fill="#a9a9a9"/>
<path d="M77.0 605.7L79.3 610.0L74.7 610.0Z" fill="#a9a9a9"/>
<path d="M80.0 605.7L82.3 610.0L77.7 610.0Z" fill="#a9a9a9"/>
<path d="M83.0 605.7L85.3 610.0L80.7 610.0Z" fill="#a9a9a9"/>
<path d="M86.0 605.7L88.3 610.0L83.7 610.0Z" fill="#a9a9a9"/>
<path d="M92.0 605.7L94.3 610.0L89.7 610.0Z" fill="#a9a9a9"/>
<path d="M95.0 605.7L97.3 610.0L92.7 610.0Z" fill="#a9a9a9"/>
<path d="M101.0 605.7L103.3 610.0L98.7 610.0Z" fill="#a9a9a9"/>
<path d="M104.0 605.7L106.3 610.0L101.7 610.0Z" fill="#a9a9a9"/>
<path d="M112.0 605.7L114.3 610.0L109.7 610.0Z" fill="#a9a9a9"/>
<path d="M115.0 605.7L117.3 610.0L112.7 610.0Z" fill="#a9a9a9"/>
<path d="M123.0 605.7L125.3 610.0L120.7 610.0Z" fill="#a9a9a9"/>
<path d="M126.0 605.7L128.3 610.0L123.7 610.0Z" fill="#a9a9a9"/>
<path d="M130.0 605.7L132.3 610.0L127.7 610.0Z" fill="#a9a9a9"/>
<path d="M134.0 605.7L136.3 610.0L131.7 610.0Z" fill="#a9a9a9"/>
<path d="M138.0 605.7L140.3 610.0L135.7 610.0Z" fill="#a9a9a9"/>
<rect x="162.6" y="464.5" width="3.8" height="3.8" fill="#d63a22"/>
<rect x="160.9" y="479.9" width="3.8" height="3.8" fill="#d63a22"/>
<rect x="150.7" y="493.0" width="3.8" height="3.8" fill="#d63a22"/>
<rect x="157.1" y="498.5" width="3.8" height="3.8" fill="#d63a22"/>
<rect x="139.8" y="527.0" width="3.8" height="3.8" fill="#d63a22"/>
<rect x="129.8" y="531.5" width="3.8" height="3.8" fill="#d63a22"/>
<rect x="86.4" y="605.2" width="3.8" height="3.8" fill="#d63a22"/>
<rect x="95.6" y="605.2" width="3.8" height="3.8" fill="#d63a22"/>
<rect x="106.7" y="605.2" width="3.8" height="3.8" fill="#d63a22"/>
<rect x="116.9" y="605.2" width="3.8" height="3.8" fill="#d63a22"/>
<rect x="218.3" y="455.1" width="61.599999999999966" height="87.10000000000002" fill="#fff" stroke="#333" stroke-width="1"/>
<text x="274.9" y="468.9" font-size="12.3" text-anchor="end" fill="#111">2.5 µM</text>
<path d="M227.0 463.0L231.6 467.6M227.0 467.6L231.6 463.0M229.3 463.0V467.6" stroke="#bcd63f" stroke-width="0.9" fill="none"/>
<text x="274.9" y="485.2" font-size="12.3" text-anchor="end" fill="#111">5 µM</text>
<path d="M229.3 479.9L231.6 482.2L229.3 484.5L227.0 482.2Z" fill="#3b6fd0"/>
<text x="274.9" y="502.8" font-size="12.3" text-anchor="end" fill="#111">10 µM</text>
<path d="M226.8 497.5L231.8 502.5M226.8 502.5L231.8 497.5" stroke="#fdb515" stroke-width="1.1" fill="none"/>
<text x="274.9" y="520.3" font-size="12.3" text-anchor="end" fill="#111">20 µM</text>
<path d="M229.3 514.8L231.6 519.1L227.0 519.1Z" fill="#a9a9a9"/>
<text x="274.9" y="537.1" font-size="12.3" text-anchor="end" fill="#111">40 µM</text>
<rect x="227.4" y="530.8" width="3.8" height="3.8" fill="#d63a22"/>
</g>
<g id="panel-d">
<text x="-0.2" y="675.1" font-size="23.7" font-weight="bold" fill="#111">d</text>
<path d="M66.3 686.9 L269.6 899.9" stroke="#5b9bd5" stroke-width="1.5" stroke-dasharray="6.2 2.3" fill="none"/>
<path d="M66.3 735.2 L264.5 900.9" stroke="#0cb14b" stroke-width="1.5" stroke-dasharray="6.2 2.3" fill="none"/>
<path d="M66.3 766.7 L263.5 900.9" stroke="#ffc000" stroke-width="1.5" stroke-dasharray="6.2 2.3" fill="none"/>
<path d="M66.3 799.3 L261.5 900.9" stroke="#ed7d31" stroke-width="1.5" stroke-dasharray="6.2 2.3" fill="none"/>
<path d="M94.6 678.7V723.8M92.0 678.7h5.2M92.0 723.8h5.2" stroke="#5b9bd5" stroke-width="1.2" fill="none"/><circle cx="94.6" cy="701.9" r="2.9" fill="#5b9bd5"/>
<path d="M116.4 743.3V762.2M113.80000000000001 743.3h5.2M113.80000000000001 762.2h5.2" stroke="#5b9bd5" stroke-width="1.2" fill="none"/><circle cx="116.4" cy="753.1" r="2.9" fill="#5b9bd5"/>
<path d="M138.1 756.6V773.2M135.5 756.6h5.2M135.5 773.2h5.2" stroke="#5b9bd5" stroke-width="1.2" fill="none"/><circle cx="138.1" cy="764.7" r="2.9" fill="#5b9bd5"/>
<path d="M166.9 782.3V803.2M164.3 782.3h5.2M164.3 803.2h5.2" stroke="#5b9bd5" stroke-width="1.2" fill="none"/><circle cx="166.9" cy="792.8" r="2.9" fill="#5b9bd5"/>
<path d="M188.7 807.2V819.8M186.1 807.2h5.2M186.1 819.8h5.2" stroke="#5b9bd5" stroke-width="1.2" fill="none"/><circle cx="188.7" cy="814" r="2.9" fill="#5b9bd5"/>
<path d="M210.4 825.3V855.9M207.8 825.3h5.2M207.8 855.9h5.2" stroke="#5b9bd5" stroke-width="1.2" fill="none"/><circle cx="210.4" cy="841.2" r="2.9" fill="#5b9bd5"/>
<path d="M231.7 865.5V871M229.1 865.5h5.2M229.1 871h5.2" stroke="#5b9bd5" stroke-width="1.2" fill="none"/><circle cx="231.7" cy="868.2" r="2.9" fill="#5b9bd5"/>
<path d="M261.1 875.4V885.8M258.5 875.4h5.2M258.5 885.8h5.2" stroke="#5b9bd5" stroke-width="1.2" fill="none"/><circle cx="261.1" cy="880.7" r="2.9" fill="#5b9bd5"/>
<path d="M94.6 735.4V753.7M92.0 735.4h5.2M92.0 753.7h5.2" stroke="#0cb14b" stroke-width="1.2" fill="none"/><circle cx="94.6" cy="744.6" r="2.9" fill="#0cb14b"/>
<path d="M116.4 769.8V800.9M113.80000000000001 769.8h5.2M113.80000000000001 800.9h5.2" stroke="#0cb14b" stroke-width="1.2" fill="none"/><circle cx="116.4" cy="784.8" r="2.9" fill="#0cb14b"/>
<path d="M138.1 794.3V813.4M135.5 794.3h5.2M135.5 813.4h5.2" stroke="#0cb14b" stroke-width="1.2" fill="none"/><circle cx="138.1" cy="803.8" r="2.9" fill="#0cb14b"/>
<path d="M166.9 818.5V837.2M164.3 818.5h5.2M164.3 837.2h5.2" stroke="#0cb14b" stroke-width="1.2" fill="none"/><circle cx="166.9" cy="827.5" r="2.9" fill="#0cb14b"/>
<path d="M188.7 823.7V849.1M186.1 823.7h5.2M186.1 849.1h5.2" stroke="#0cb14b" stroke-width="1.2" fill="none"/><circle cx="188.7" cy="836.6" r="2.9" fill="#0cb14b"/>
<path d="M210.4 859.8V867.4M207.8 859.8h5.2M207.8 867.4h5.2" stroke="#0cb14b" stroke-width="1.2" fill="none"/><circle cx="210.4" cy="863.4" r="2.9" fill="#0cb14b"/>
<path d="M231.7 870.7V879.2M229.1 870.7h5.2M229.1 879.2h5.2" stroke="#0cb14b" stroke-width="1.2" fill="none"/><circle cx="231.7" cy="874.8" r="2.9" fill="#0cb14b"/>
<path d="M261.1 886.8V890.6M258.5 886.8h5.2M258.5 890.6h5.2" stroke="#0cb14b" stroke-width="1.2" fill="none"/><circle cx="261.1" cy="888.7" r="2.9" fill="#0cb14b"/>
<path d="M94.6 781.2V791M92.0 781.2h5.2M92.0 791h5.2" stroke="#ffc000" stroke-width="1.2" fill="none"/><circle cx="94.6" cy="786.4" r="2.9" fill="#ffc000"/>
<path d="M116.4 797.2V804.7M113.80000000000001 797.2h5.2M113.80000000000001 804.7h5.2" stroke="#ffc000" stroke-width="1.2" fill="none"/><circle cx="116.4" cy="800.9" r="2.9" fill="#ffc000"/>
<path d="M138.1 810.7V821M135.5 810.7h5.2M135.5 821h5.2" stroke="#ffc000" stroke-width="1.2" fill="none"/><circle cx="138.1" cy="815.9" r="2.9" fill="#ffc000"/>
<path d="M159.9 825.4V840.9M157.3 825.4h5.2M157.3 840.9h5.2" stroke="#ffc000" stroke-width="1.2" fill="none"/><circle cx="159.9" cy="833.1" r="2.9" fill="#ffc000"/>
<path d="M181.8 838.1V849.2M179.20000000000002 838.1h5.2M179.20000000000002 849.2h5.2" stroke="#ffc000" stroke-width="1.2" fill="none"/><circle cx="181.8" cy="843.5" r="2.9" fill="#ffc000"/>
<path d="M94.6 809.6V814.8M92.0 809.6h5.2M92.0 814.8h5.2" stroke="#ed7d31" stroke-width="1.2" fill="none"/><circle cx="94.6" cy="812.3" r="2.9" fill="#ed7d31"/>
<path d="M116.4 820.6V839.3M113.80000000000001 820.6h5.2M113.80000000000001 839.3h5.2" stroke="#ed7d31" stroke-width="1.2" fill="none"/><circle cx="116.4" cy="830.4" r="2.9" fill="#ed7d31"/>
<path d="M166.9 844.5V854.8M164.3 844.5h5.2M164.3 854.8h5.2" stroke="#ed7d31" stroke-width="1.2" fill="none"/><circle cx="166.9" cy="849.6" r="2.9" fill="#ed7d31"/>
<path d="M188.7 859.3V870.7M186.1 859.3h5.2M186.1 870.7h5.2" stroke="#ed7d31" stroke-width="1.2" fill="none"/><circle cx="188.7" cy="865" r="2.9" fill="#ed7d31"/>
<path d="M210.4 868.8V878.3M207.8 868.8h5.2M207.8 878.3h5.2" stroke="#ed7d31" stroke-width="1.2" fill="none"/><circle cx="210.4" cy="873.5" r="2.9" fill="#ed7d31"/>
<path d="M231.7 884.2V887.4M229.1 884.2h5.2M229.1 887.4h5.2" stroke="#ed7d31" stroke-width="1.2" fill="none"/><circle cx="231.7" cy="885.8" r="2.9" fill="#ed7d31"/>
<path d="M66.3 669.9 V901.6 H283.5" fill="none" stroke="#111" stroke-width="1.4"/>
<text x="58.6" y="905.9" font-size="14" text-anchor="end" fill="#111">273</text>
<text x="58.6" y="854.4" font-size="14" text-anchor="end" fill="#111">283</text>
<text x="58.6" y="802.9" font-size="14" text-anchor="end" fill="#111">293</text>
<text x="58.6" y="751.4" font-size="14" text-anchor="end" fill="#111">303</text>
<text x="58.6" y="699.9" font-size="14" text-anchor="end" fill="#111">313</text>
<path d="M66.3 902.0h-5.8 M66.3 876.2h-4 M66.3 850.5h-5.8 M66.3 824.8h-4 M66.3 799.0h-5.8 M66.3 773.2h-4 M66.3 747.5h-5.8 M66.3 721.8h-4 M66.3 696.0h-5.8 M66.3 670.2h-4 M66.3 901.6v7 M88.0 901.6v4 M100.7 901.6v4 M109.6 901.6v4 M116.6 901.6v4 M122.3 901.6v4 M127.1 901.6v4 M131.3 901.6v4 M135.0 901.6v4 M138.3 901.6v7 M160.0 901.6v4 M172.7 901.6v4 M181.6 901.6v4 M188.6 901.6v4 M194.3 901.6v4 M199.1 901.6v4 M203.3 901.6v4 M207.0 901.6v4 M210.3 901.6v7 M232.0 901.6v4 M244.7 901.6v4 M253.6 901.6v4 M260.6 901.6v4 M266.3 901.6v4 M271.1 901.6v4 M275.3 901.6v4 M279.0 901.6v4 M282.9 901.6v7" stroke="#111" stroke-width="1.2" fill="none"/>
<text x="66.3" y="923" font-size="14" text-anchor="middle" fill="#111">1</text>
<text x="137.8" y="923" font-size="14" text-anchor="middle" fill="#111">10</text>
<text x="209.2" y="923" font-size="14" text-anchor="middle" fill="#111">100</text>
<text x="281.2" y="923" font-size="14" text-anchor="middle" fill="#111">1000</text>
<text x="177.5" y="939.5" font-size="14.2" text-anchor="middle" fill="#111">FG domain concentration (µM)</text>
<text x="100.1" y="960.1" font-size="14.2" fill="#fb1a1a">&lt; corresponding to <tspan font-style="italic">C</tspan><tspan font-style="italic" font-size="8" dy="3.5">sat</tspan><tspan dy="-3.5"> &gt;</tspan></text>
<text transform="translate(27.6 883) rotate(-90)" font-size="14" fill="#111">Transition temperature, <tspan font-style="italic">T</tspan><tspan dx="7.4"> (K)</tspan></text>
<rect x="145" y="661.7" width="160.8" height="87.5" fill="#fff" stroke="#333" stroke-width="1"/>
<text x="152.9" y="676" font-size="14" fill="#111"><tspan font-style="italic">C</tspan><tspan font-style="italic" font-size="8.8" dy="3.6">NaCl</tspan><tspan dy="-3.6"> (mM)</tspan></text>
<text x="235.6" y="676" font-size="14" fill="#111">R<tspan font-size="8" dy="-5">2</tspan><tspan dy="5" dx="-1.6"> of fitting</tspan></text>
<circle cx="160" cy="691.8" r="2.9" fill="#5b9bd5"/>
<text x="175.2" y="696.5" font-size="14" fill="#111">75</text>
<text x="236.2" y="696.5" font-size="14" fill="#111">0.977</text>
<circle cx="160" cy="708.0" r="2.9" fill="#0cb14b"/>
<text x="175.2" y="712.5" font-size="14" fill="#111">150</text>
<text x="236.2" y="712.5" font-size="14" fill="#111">0.968</text>
<circle cx="160" cy="724.2" r="2.9" fill="#ffc000"/>
<text x="175.2" y="728.5" font-size="14" fill="#111">300</text>
<text x="236.2" y="728.5" font-size="14" fill="#111">0.995</text>
<circle cx="160" cy="740.4" r="2.9" fill="#ed7d31"/>
<text x="175.2" y="744.5" font-size="14" fill="#111">600</text>
<text x="236.2" y="744.5" font-size="14" fill="#111">0.992</text>
</g>
<defs><filter id="gb" x="-30%" y="-60%" width="160%" height="220%"><feGaussianBlur stdDeviation="1.1"/></filter><filter id="gb2" x="-30%" y="-60%" width="160%" height="220%"><feGaussianBlur stdDeviation="0.8"/></filter>
<linearGradient id="bandD" x1="0" y1="0" x2="0" y2="1"><stop offset="0" stop-color="#b4b4b4"/><stop offset="0.3" stop-color="#7a7a7a"/><stop offset="0.65" stop-color="#484848"/><stop offset="1" stop-color="#222"/></linearGradient>
<linearGradient id="bandM" x1="0" y1="0" x2="0" y2="1"><stop offset="0" stop-color="#cacaca"/><stop offset="0.5" stop-color="#8c8c8c"/><stop offset="1" stop-color="#666"/></linearGradient>
<linearGradient id="bandL" x1="0" y1="0" x2="0" y2="1"><stop offset="0" stop-color="#c8c8c8"/><stop offset="1" stop-color="#9a9a9a"/></linearGradient>
<linearGradient id="bandG" x1="0" y1="0" x2="0" y2="1"><stop offset="0" stop-color="#bcbcbc"/><stop offset="0.45" stop-color="#7e7e7e"/><stop offset="1" stop-color="#505050"/></linearGradient>
<linearGradient id="bandT" x1="0" y1="0" x2="0" y2="1"><stop offset="0" stop-color="#777"/><stop offset="1" stop-color="#1c1c1c"/></linearGradient>
</defs>
<g id="panel-e">
<text x="332" y="215.2" font-size="24" font-weight="bold" fill="#111">e</text>
<rect x="368.5" y="196.6" width="315.8" height="39.5" fill="#fff" stroke="#444" stroke-width="1"/>
<text x="526" y="211.1" font-size="14" text-anchor="middle" font-weight="bold" fill="#111">Phase separation at 300 K</text>
<text x="401.2" y="228.7" font-size="14" font-weight="bold" fill="#111">at [prf.GLFG<tspan font-size="8.5" dy="3.6">52x12</tspan><tspan dy="-3.6">]=20 µM, varying </tspan><tspan font-style="italic" dx="1.3">C</tspan><tspan font-style="italic" font-size="8" dy="3.6">NaCl</tspan></text>
<text x="339.2" y="252.1" font-size="17.5" font-style="italic" fill="#111">C<tspan font-size="9.5" dy="5.6" dx="-0.6">NaCl</tspan></text>
<text x="357.5" y="272.2" font-size="14" text-anchor="middle" fill="#111">(mM)</text>
<clipPath id="gc1"><rect x="379.4" y="279.9" width="52.5" height="31.5"/></clipPath>
<rect x="379.4" y="279.9" width="52.5" height="31.5" fill="#dadada"/>
<g clip-path="url(#gc1)"><g filter="url(#gb)">
<path d="M381.0 289.3 H404.1 V292.2 C404.1 297.1 399.9 298.8 392.5 298.8 C385.1 298.8 381.0 297.1 381.0 292.2 Z" fill="url(#bandM)"/>
<path d="M404.1 288.7 H430.8 V292.9 C430.8 300.2 426.0 302.6 417.5 302.6 C408.9 302.6 404.1 300.2 404.1 292.9 Z" fill="url(#bandG)"/>
</g></g>
<rect x="379.4" y="279.9" width="52.5" height="31.5" fill="none" stroke="#333" stroke-width="1.1"/>
<text x="354.7" y="298.5" font-size="14" text-anchor="middle" fill="#111">75</text>
<clipPath id="gc2"><rect x="379.4" y="314.4" width="52.5" height="31.5"/></clipPath>
<rect x="379.4" y="314.4" width="52.5" height="31.5" fill="#dadada"/>
<g clip-path="url(#gc2)"><g filter="url(#gb)">
<path d="M381.0 323.2 H405.6 V327.0 C405.6 333.6 401.2 335.8 393.3 335.8 C385.4 335.8 381.0 333.6 381.0 327.0 Z" fill="url(#bandG)"/>
<path d="M405.6 323.8 H430.8 V326.9 C430.8 332.2 426.3 333.9 418.2 333.9 C410.2 333.9 405.6 332.2 405.6 326.9 Z" fill="url(#bandM)"/>
</g></g>
<rect x="379.4" y="314.4" width="52.5" height="31.5" fill="none" stroke="#333" stroke-width="1.1"/>
<text x="354.7" y="333.1" font-size="14" text-anchor="middle" fill="#111">150</text>
<clipPath id="gc3"><rect x="379.4" y="348.3" width="52.5" height="31.5"/></clipPath>
<rect x="379.4" y="348.3" width="52.5" height="31.5" fill="#dadada"/>
<g clip-path="url(#gc3)"><g filter="url(#gb)">
<path d="M382.5 356.2 H406.7 V362.0 C406.7 370.2 402.4 372.9 394.6 372.9 C386.9 372.9 382.5 370.2 382.5 362.0 Z" fill="url(#bandD)"/>
<path d="M407.8 359.3 H429.3 V361.2 C429.3 364.5 425.4 365.6 418.5 365.6 C411.6 365.6 407.8 364.5 407.8 361.2 Z" fill="url(#bandL)"/>
</g></g>
<rect x="379.4" y="348.3" width="52.5" height="31.5" fill="none" stroke="#333" stroke-width="1.1"/>
<text x="354.7" y="368.2" font-size="14" text-anchor="middle" fill="#111">200</text>
<clipPath id="gc4"><rect x="379.4" y="382.6" width="52.5" height="31.5"/></clipPath>
<rect x="379.4" y="382.6" width="52.5" height="31.5" fill="#dadada"/>
<g clip-path="url(#gc4)"><g filter="url(#gb)">
<path d="M381.5 390.5 H407.8 V395.1 C407.8 403.2 403.0 405.9 394.6 405.9 C386.2 405.9 381.5 403.2 381.5 395.1 Z" fill="url(#bandD)"/>
<path d="M407.8 393.6 H428.2 V395.2 C428.2 398.0 424.5 399.0 418.0 399.0 C411.4 399.0 407.8 398.0 407.8 395.2 Z" fill="url(#bandL)"/>
</g></g>
<rect x="379.4" y="382.6" width="52.5" height="31.5" fill="none" stroke="#333" stroke-width="1.1"/>
<text x="354.7" y="403" font-size="14" text-anchor="middle" fill="#111">300</text>
<clipPath id="gc5"><rect x="379.4" y="416.6" width="52.5" height="31.5"/></clipPath>
<rect x="379.4" y="416.6" width="52.5" height="31.5" fill="#dadada"/>
<g clip-path="url(#gc5)"><g filter="url(#gb)">
<path d="M382.5 424.5 H406.7 V430.9 C406.7 439.1 402.4 441.8 394.6 441.8 C386.9 441.8 382.5 439.1 382.5 430.9 Z" fill="url(#bandD)"/>
<path d="M408.3 431.1 H429.3 V431.7 C429.3 432.6 425.5 433.0 418.8 433.0 C412.1 433.0 408.3 432.6 408.3 431.7 Z" fill="#cfcfcf"/>
</g></g>
<rect x="379.4" y="416.6" width="52.5" height="31.5" fill="none" stroke="#333" stroke-width="1.1"/>
<text x="354.7" y="437.6" font-size="14" text-anchor="middle" fill="#111">450</text>
<clipPath id="gc6"><rect x="379.4" y="450.6" width="52.5" height="31.5"/></clipPath>
<rect x="379.4" y="450.6" width="52.5" height="31.5" fill="#dadada"/>
<g clip-path="url(#gc6)"><g filter="url(#gb)">
<path d="M381.5 459.4 H403.6 V466.5 C403.6 473.9 399.6 476.4 392.5 476.4 C385.5 476.4 381.5 473.9 381.5 466.5 Z" fill="url(#bandD)"/>
<path d="M403.5 466.4 H429.3 V466.9 C429.3 467.9 424.6 468.2 416.4 468.2 C408.2 468.2 403.5 467.9 403.5 466.9 Z" fill="#d0d0d0"/>
</g></g>
<rect x="379.4" y="450.6" width="52.5" height="31.5" fill="none" stroke="#333" stroke-width="1.1"/>
<text x="354.7" y="472" font-size="14" text-anchor="middle" fill="#111">600</text>
<text transform="translate(391.3 271.7) rotate(-45)" font-size="11.8" fill="#111">Pellet</text>
<text transform="translate(414.7 276.2) rotate(-45)" font-size="11.8" fill="#111">Supern.</text>
<path d="M484.8 267.1 V453.9 H677.6" fill="none" stroke="#111" stroke-width="1.4"/>
<path d="M484.8 453.9h-7 M484.8 429.5h-2.9 M484.8 415.2h-2.9 M484.8 405.0h-2.9 M484.8 397.1h-2.9 M484.8 390.7h-2.9 M484.8 385.3h-2.9 M484.8 380.6h-2.9 M484.8 376.4h-2.9 M484.8 372.7h-7 M484.8 348.3h-2.9 M484.8 334.0h-2.9 M484.8 323.8h-2.9 M484.8 315.9h-2.9 M484.8 309.5h-2.9 M484.8 304.1h-2.9 M484.8 299.4h-2.9 M484.8 295.2h-2.9 M484.8 291.5h-7 M484.8 267.1h-2.9 M484.8 453.9v6 M499.6 453.9v3.5 M514.4 453.9v3.5 M529.2 453.9v3.5 M544.0 453.9v6 M558.8 453.9v3.5 M573.6 453.9v3.5 M588.4 453.9v3.5 M603.2 453.9v6 M618.0 453.9v3.5 M632.8 453.9v3.5 M647.6 453.9v3.5 M662.4 453.9v6 M677.2 453.9v3.5" stroke="#111" stroke-width="1.2" fill="none"/>
<text x="474.8" y="457.6" font-size="14" text-anchor="end" fill="#111">0.1</text>
<text x="474.8" y="376.4" font-size="14" text-anchor="end" fill="#111">1</text>
<text x="474.8" y="295.2" font-size="14" text-anchor="end" fill="#111">10</text>
<text x="485.6" y="473.2" font-size="14" text-anchor="middle" fill="#111">0</text>
<text x="546.0" y="473.2" font-size="14" text-anchor="middle" fill="#111">200</text>
<text x="605.2" y="473.2" font-size="14" text-anchor="middle" fill="#111">400</text>
<text x="664.4" y="473.2" font-size="14" text-anchor="middle" fill="#111">600</text>
<text x="544" y="489" font-size="14" fill="#111"><tspan font-style="italic">C</tspan><tspan font-style="italic" font-size="8" dy="3.4">NaCl</tspan><tspan dy="-3.4"> (mM)</tspan></text>
<text transform="translate(452.2 444.8) rotate(-90)" font-size="14" fill="#111">Saturation conc., <tspan font-style="italic" font-size="16.5" dx="0.8">C</tspan><tspan font-style="italic" font-size="9.5" dy="5.4" dx="-0.3">sat</tspan><tspan dy="-5.4" dx="8.5">(µM)</tspan></text>
<path d="M507.4 293.3 L662.4 404.6" stroke="#111" stroke-width="1.5" stroke-dasharray="6.5 2.2" fill="none"/>
<path d="M507.4 279.4V297.2M505.59999999999997 279.4h3.6M505.59999999999997 297.2h3.6" stroke="#111" stroke-width="1" fill="none"/><circle cx="507.4" cy="286.9" r="2.7" fill="#111"/>
<path d="M529.3 309V317.3M527.5 309h3.6M527.5 317.3h3.6" stroke="#111" stroke-width="1" fill="none"/><circle cx="529.3" cy="312.9" r="2.7" fill="#111"/>
<path d="M544.2 317.4V333M542.4000000000001 317.4h3.6M542.4000000000001 333h3.6" stroke="#111" stroke-width="1" fill="none"/><circle cx="544.2" cy="323.8" r="2.7" fill="#111"/>
<path d="M573.7 331.6V340.8M571.9000000000001 331.6h3.6M571.9000000000001 340.8h3.6" stroke="#111" stroke-width="1" fill="none"/><circle cx="573.7" cy="336" r="2.7" fill="#111"/>
<path d="M617.5 375.4V388.6M615.7 375.4h3.6M615.7 388.6h3.6" stroke="#111" stroke-width="1" fill="none"/><circle cx="617.5" cy="381.6" r="2.7" fill="#111"/>
<path d="M662.4 390V418.5M660.6 390h3.6M660.6 418.5h3.6" stroke="#111" stroke-width="1" fill="none"/><circle cx="662.4" cy="401" r="2.7" fill="#111"/>
<text x="527.3" y="401.1" font-size="14" fill="#111">R<tspan font-size="8" dy="-5">2</tspan><tspan dy="5" dx="2">=0.981</tspan></text>
</g>
<g id="panel-f">
<text x="342.6" y="547.1" font-size="24" font-weight="bold" fill="#111">f</text>
<text x="488.2" y="530.6" font-size="14" text-anchor="middle" font-weight="bold" fill="#111">Phase separation</text>
<text x="437.8" y="546.8" font-size="14" font-weight="bold" fill="#111">at <tspan font-style="italic">C</tspan><tspan font-style="italic" font-size="8.5" dy="4">NaCl</tspan><tspan dy="-4" dx="3.5">=75 mM</tspan></text>
<path d="M429.4 555.8H544M432.6 576.1H480.9M492.1 576.1H540.5" stroke="#111" stroke-width="1.2" fill="none"/>
<text x="457.3" y="571.6" font-size="14" text-anchor="middle" fill="#111">277 K</text>
<text x="516.4" y="571.6" font-size="14" text-anchor="middle" fill="#111">310 K</text>
<text x="378.2" y="589.6" font-size="14" text-anchor="middle" font-weight="bold" fill="#111">FG domain:</text>
<text x="378" y="606.3" font-size="14" text-anchor="middle" font-weight="bold" fill="#111">(10 µM)</text>
<text transform="translate(443 610.8) rotate(-50)" font-size="11.6" fill="#111">Pellet</text>
<text transform="translate(461.2 611.7) rotate(-50)" font-size="11.6" fill="#111">Supern.</text>
<text transform="translate(501.6 610.8) rotate(-50)" font-size="11.6" fill="#111">Pellet</text>
<text transform="translate(520.2 611.7) rotate(-50)" font-size="11.6" fill="#111">Supern.</text>
<clipPath id="gc7"><rect x="432.4" y="614.1" width="44.4" height="32.3"/></clipPath>
<rect x="432.4" y="614.1" width="44.4" height="32.3" fill="#dadada"/>
<g clip-path="url(#gc7)"><g filter="url(#gb)">
<path d="M434.6 623.8 H456.8 V626.4 C456.8 631.0 452.8 632.5 445.7 632.5 C438.6 632.5 434.6 631.0 434.6 626.4 Z" fill="url(#bandM)"/>
<path d="M456.8 622.5 H475.9 V626.0 C475.9 632.1 472.5 634.1 466.4 634.1 C460.3 634.1 456.8 632.1 456.8 626.0 Z" fill="url(#bandD)"/>
<path d="M459.0 637.4 H473.2 V639.3 C473.2 642.7 470.7 643.8 466.1 643.8 C461.6 643.8 459.0 642.7 459.0 639.3 Z" fill="#d0d0d0"/>
</g></g>
<rect x="432.4" y="614.1" width="44.4" height="32.3" fill="none" stroke="#333" stroke-width="1.1"/>
<clipPath id="gc8"><rect x="492.2" y="614.1" width="44.4" height="32.3"/></clipPath>
<rect x="492.2" y="614.1" width="44.4" height="32.3" fill="#dadada"/>
<g clip-path="url(#gc8)"><g filter="url(#gb)">
<path d="M494.9 623.1 H515.3 V627.0 C515.3 633.8 511.6 636.1 505.1 636.1 C498.5 636.1 494.9 633.8 494.9 627.0 Z" fill="url(#bandD)"/>
<path d="M518.0 626.4 H533.0 V626.9 C533.0 627.7 530.3 628.0 525.5 628.0 C520.7 628.0 518.0 627.7 518.0 626.9 Z" fill="#c0c0c0"/>
<path d="M496.6 638.0 H513.5 V639.7 C513.5 642.8 510.5 643.8 505.1 643.8 C499.7 643.8 496.6 642.8 496.6 639.7 Z" fill="#cecece"/>
</g></g>
<rect x="492.2" y="614.1" width="44.4" height="32.3" fill="none" stroke="#333" stroke-width="1.1"/>
<text x="378.7" y="633.3" font-size="14" font-weight="bold" text-anchor="middle" fill="#111"><tspan font-style="italic">Tt</tspan><tspan dx="1.5">Mac98A</tspan></text>
<clipPath id="gc9"><rect x="432.4" y="648.4" width="44.4" height="32.3"/></clipPath>
<rect x="432.4" y="648.4" width="44.4" height="32.3" fill="#dadada"/>
<g clip-path="url(#gc9)"><g filter="url(#gb)">
<path d="M433.7 657.1 H458.2 V661.1 C458.2 668.0 453.8 670.4 445.9 670.4 C438.1 670.4 433.7 668.0 433.7 661.1 Z" fill="url(#bandD)"/>
<path d="M458.2 658.1 H475.9 V663.7 C475.9 669.7 472.7 671.7 467.0 671.7 C461.3 671.7 458.2 669.7 458.2 663.7 Z" fill="url(#bandD)"/>
</g></g>
<rect x="432.4" y="648.4" width="44.4" height="32.3" fill="none" stroke="#333" stroke-width="1.1"/>
<clipPath id="gc10"><rect x="492.2" y="648.4" width="44.4" height="32.3"/></clipPath>
<rect x="492.2" y="648.4" width="44.4" height="32.3" fill="#dadada"/>
<g clip-path="url(#gc10)"><g filter="url(#gb)">
<path d="M494.0 657.1 H516.2 V662.3 C516.2 669.8 512.2 672.3 505.1 672.3 C498.0 672.3 494.0 669.8 494.0 662.3 Z" fill="url(#bandD)"/>
<path d="M518.0 661.3 H533.0 V662.0 C533.0 663.2 530.3 663.6 525.5 663.6 C520.7 663.6 518.0 663.2 518.0 662.0 Z" fill="#b8b8b8"/>
</g></g>
<rect x="492.2" y="648.4" width="44.4" height="32.3" fill="none" stroke="#333" stroke-width="1.1"/>
<text x="381" y="668.3" font-size="14" font-weight="bold" text-anchor="middle" fill="#111"><tspan font-style="italic">At</tspan><tspan dx="1.5">Nup98B</tspan></text>
<clipPath id="gc11"><rect x="432.4" y="682.9" width="44.4" height="32.3"/></clipPath>
<rect x="432.4" y="682.9" width="44.4" height="32.3" fill="#dadada"/>
<g clip-path="url(#gc11)"><g filter="url(#gb)">
<path d="M436.0 692.3 H454.6 V692.9 C454.6 694.1 451.2 694.5 445.3 694.5 C439.3 694.5 436.0 694.1 436.0 692.9 Z" fill="#b0b0b0"/>
<path d="M452.8 691.3 H475.9 V695.0 C475.9 701.4 471.8 703.6 464.4 703.6 C457.0 703.6 452.8 701.4 452.8 695.0 Z" fill="url(#bandD)"/>
<path d="M456.8 711.3 H472.4 V712.1 C472.4 713.5 469.6 713.9 464.6 713.9 C459.6 713.9 456.8 713.5 456.8 712.1 Z" fill="#c8c8c8"/>
</g></g>
<rect x="432.4" y="682.9" width="44.4" height="32.3" fill="none" stroke="#333" stroke-width="1.1"/>
<clipPath id="gc12"><rect x="492.2" y="682.9" width="44.4" height="32.3"/></clipPath>
<rect x="492.2" y="682.9" width="44.4" height="32.3" fill="#dadada"/>
<g clip-path="url(#gc12)"><g filter="url(#gb)">
<path d="M493.1 695.2 H515.3 V696.9 C515.3 700.0 511.3 701.0 504.2 701.0 C497.1 701.0 493.1 700.0 493.1 696.9 Z" fill="url(#bandT)"/>
<path d="M515.3 695.2 H535.7 V696.9 C535.7 700.0 532.0 701.0 525.5 701.0 C519.0 701.0 515.3 700.0 515.3 696.9 Z" fill="url(#bandT)"/>
<path d="M518.8 709.4 H533.0 V710.2 C533.0 711.5 530.5 712.0 525.9 712.0 C521.4 712.0 518.8 711.5 518.8 710.2 Z" fill="#c4c4c4"/>
</g></g>
<rect x="492.2" y="682.9" width="44.4" height="32.3" fill="none" stroke="#333" stroke-width="1.1"/>
<text x="381.4" y="703.4" font-size="14" font-weight="bold" text-anchor="middle" fill="#111"><tspan font-style="italic">Bf</tspan><tspan dx="1.5">Nup98</tspan></text>
<clipPath id="gc13"><rect x="432.4" y="717.4" width="44.4" height="32.3"/></clipPath>
<rect x="432.4" y="717.4" width="44.4" height="32.3" fill="#dadada"/>
<g clip-path="url(#gc13)"><g filter="url(#gb)">
<path d="M434.6 729.0 H455.5 V731.0 C455.5 734.4 451.7 735.5 445.1 735.5 C438.4 735.5 434.6 734.4 434.6 731.0 Z" fill="url(#bandM)"/>
<path d="M453.7 727.1 H475.9 V731.2 C475.9 738.3 471.9 740.7 464.8 740.7 C457.7 740.7 453.7 738.3 453.7 731.2 Z" fill="url(#bandD)"/>
</g></g>
<rect x="432.4" y="717.4" width="44.4" height="32.3" fill="none" stroke="#333" stroke-width="1.1"/>
<clipPath id="gc14"><rect x="492.2" y="717.4" width="44.4" height="32.3"/></clipPath>
<rect x="492.2" y="717.4" width="44.4" height="32.3" fill="#dadada"/>
<g clip-path="url(#gc14)"><g filter="url(#gb)">
<path d="M494.0 725.8 H516.2 V729.9 C516.2 737.0 512.2 739.4 505.1 739.4 C498.0 739.4 494.0 737.0 494.0 729.9 Z" fill="url(#bandD)"/>
<path d="M519.7 731.0 H532.2 V731.9 C532.2 733.6 529.9 734.2 525.9 734.2 C522.0 734.2 519.7 733.6 519.7 731.9 Z" fill="#c2c2c2"/>
</g></g>
<rect x="492.2" y="717.4" width="44.4" height="32.3" fill="none" stroke="#333" stroke-width="1.1"/>
<text x="381" y="737.7" font-size="14" font-weight="bold" text-anchor="middle" fill="#111"><tspan font-style="italic">Xt</tspan><tspan dx="1.5">Nup98</tspan></text>
</g>
</svg>
</body></html>
